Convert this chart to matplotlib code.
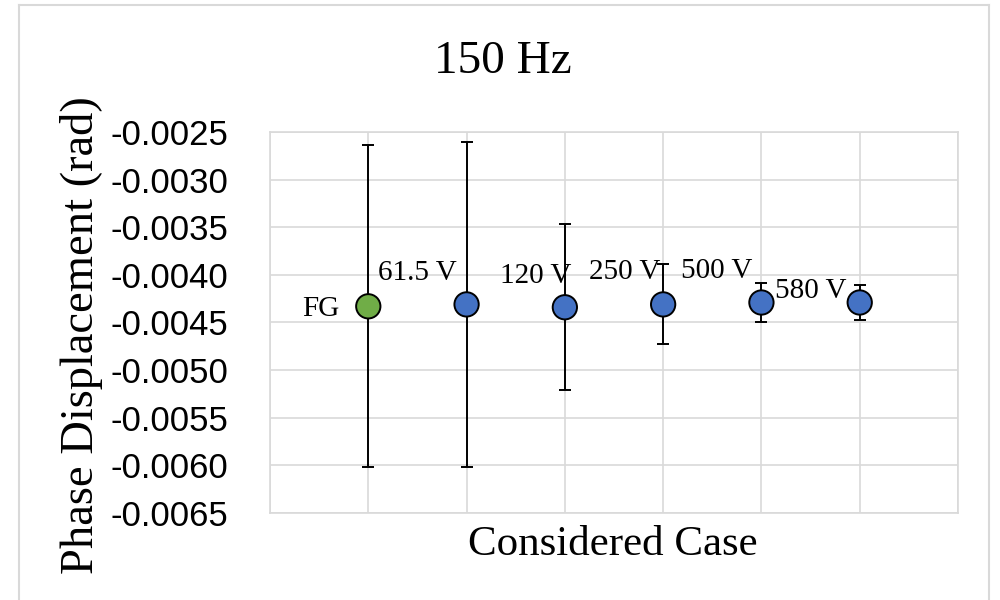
import matplotlib
matplotlib.use("Agg")
import matplotlib.pyplot as plt
from matplotlib.lines import Line2D

plt.rcParams['axes.unicode_minus'] = False

# Data
cases = ["FG", "61.5 V", "120 V", "250 V", "500 V", "580 V"]
values = [-0.00433, -0.00431, -0.00434, -0.00431, -0.00429, -0.00429]
errors = [0.00169, 0.00171, 0.00087, 0.00042, 0.00020, 0.00018]
colors = ["#70AD47", "#4472C4", "#4472C4", "#4472C4", "#4472C4", "#4472C4"]
yticks = [-0.0065, -0.0060, -0.0055, -0.0050, -0.0045, -0.0040, -0.0035, -0.0030, -0.0025]
ytick_labels = ["-0.0065", "-0.0060", "-0.0055", "-0.0050", "-0.0045", "-0.0040", "-0.0035", "-0.0030", "-0.0025"]
# label offsets (pixels) relative to point: right edge dx, center dy
label_offsets = [(-29, -3), (-10, 31), (7, 31), (-3, 32), (-9, 31), (-13, 11)]

serif = ["Liberation Serif", "DejaVu Serif"]
sans = ["Liberation Sans", "DejaVu Sans"]

fig = plt.figure(figsize=(10, 6), dpi=100)
ax = fig.add_axes([0.27, 87/600, 0.688, 381/600])

xs = list(range(1, len(cases) + 1))
ax.errorbar(xs, values, yerr=errors, fmt='none', ecolor='black',
            elinewidth=1.4, capsize=4.5, capthick=1.4, zorder=3)
ax.scatter(xs, values, s=17.5**2, c=colors, edgecolors='black',
           linewidths=1.4, zorder=4)

for x, v, name, (dx, dy) in zip(xs, values, cases, label_offsets):
    ax.annotate(name, (x, v), xytext=(dx, dy), textcoords='offset pixels',
                ha='right', va='center', fontsize=21, family=serif, zorder=5)

ax.set_xlim(0, len(cases) + 1)
ax.set_ylim(-0.0065, -0.0025)
ax.set_xticks(range(0, len(cases) + 2))
ax.set_xticklabels([])
ax.set_yticks(yticks)
ax.set_yticklabels(ytick_labels, family=sans, fontsize=25)
ax.tick_params(axis='both', length=0)
ax.tick_params(axis='y', pad=30)
ax.grid(True, color='#d9d9d9', linewidth=1.2)
ax.set_axisbelow(True)
for sp in ax.spines.values():
    sp.set_color('#d9d9d9')
    sp.set_linewidth(1.2)

fig.text(0.503, 1 - 62/600, "150 Hz", ha='center', va='center',
         fontsize=34, family=serif)
fig.text(0.613, 1 - 545/600, "Considered Case", ha='center', va='center',
         fontsize=31, family=serif)
fig.text(0.082, 1 - 335/600, "Phase Displacement (rad)", ha='center', va='center',
         rotation=90, fontsize=33.5, family=serif)

# chart-area border (open at bottom)
bc = '#d9d9d9'
fig.add_artist(Line2D([19/1000, 19/1000], [0, 1 - 5/600], color=bc, lw=1.5))
fig.add_artist(Line2D([19/1000, 989/1000], [1 - 5/600, 1 - 5/600], color=bc, lw=1.5))
fig.add_artist(Line2D([989/1000, 989/1000], [0, 1 - 5/600], color=bc, lw=1.5))

fig.savefig("out.png", dpi=100, facecolor='white')
